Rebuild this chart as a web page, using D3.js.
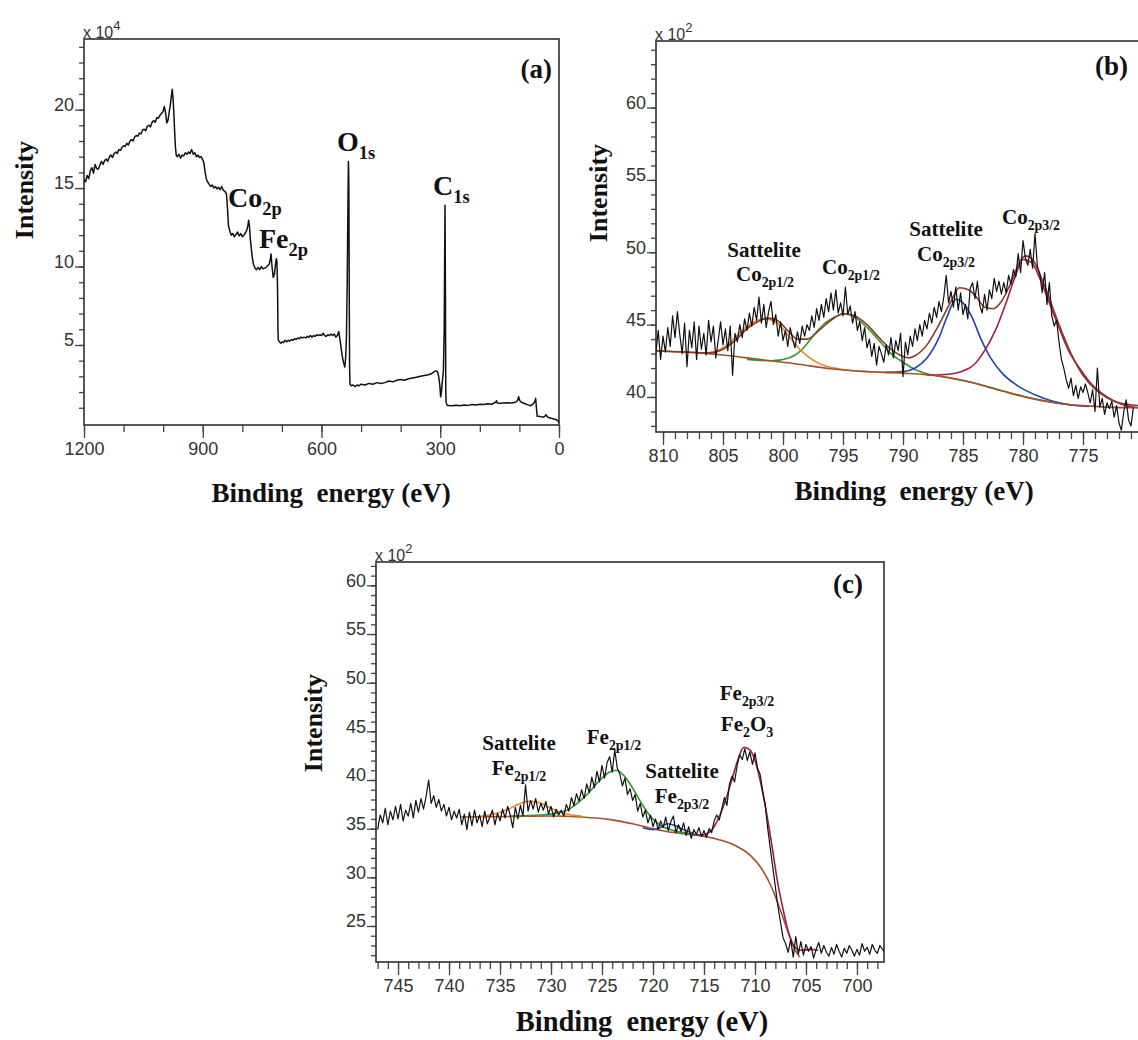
<!DOCTYPE html>
<html>
<head>
<meta charset="utf-8">
<script src="https://cdnjs.cloudflare.com/ajax/libs/d3/7.8.5/d3.min.js"></script>
<style>
body{margin:0;background:#fff;}
svg text{font-family:"Liberation Sans",Arial,sans-serif;}
.lbl{font-family:"Liberation Serif","Times New Roman",serif;font-weight:bold;fill:#111;}
.tick text{font-size:18px;fill:#333;}
.tick line{stroke:#444;stroke-width:1.3;}
</style>
</head>
<body>
<div id="chart"></div>
<script>
// ---- data ----
// (a) survey spectrum: [binding energy eV, intensity x1e4]
var survey = [[1200,15.55],[1196,15.4],[1192,15.8],[1188,15.6],[1184,16.1],[1180,16.3],[1176,15.95],[1172,16.5],[1168,16.25],[1164,16.2],[1160,16.45],[1156,16.7],[1152,16.5],[1148,16.75],[1144,16.85],[1140,16.7],[1136,17.0],[1132,17.1],[1128,16.95],[1124,17.2],[1120,17.3],[1116,17.2],[1112,17.45],[1108,17.4],[1104,17.6],[1100,17.7],[1096,17.65],[1092,17.85],[1088,17.75],[1084,18.0],[1080,18.1],[1076,18.0],[1072,18.25],[1068,18.35],[1064,18.3],[1060,18.5],[1056,18.45],[1052,18.7],[1048,18.75],[1044,18.65],[1040,18.95],[1036,19.0],[1032,18.9],[1028,19.2],[1024,19.3],[1020,19.2],[1016,19.5],[1012,19.45],[1008,19.65],[1004,19.75],[1000,19.9],[997,20.2],[994,19.8],[991,19.15],[988,19.3],[985,19.8],[982,20.3],[979,20.9],[977,21.3],[975,20.7],[973,19.8],[971,18.6],[969,17.6],[967,17.1],[964,17.0],[960,17.15],[956,16.9],[952,17.1],[948,17.05],[944,17.25],[940,17.15],[936,17.3],[932,17.2],[928,17.45],[924,17.15],[920,17.25],[916,17.0],[912,17.1],[908,16.95],[904,17.0],[900,16.8],[897,16.6],[894,16.0],[891,15.6],[888,15.4],[884,15.25],[880,15.1],[876,15.2],[872,15.0],[868,15.1],[864,14.95],[860,15.05],[856,14.9],[852,15.1],[848,14.85],[844,14.8],[840,14.6],[837,13.5],[835,12.6],[832,12.3],[828,12.0],[824,12.1],[820,11.9],[816,12.05],[812,12.2],[808,11.95],[804,12.1],[800,11.9],[796,12.0],[792,12.15],[789,12.3],[786,12.6],[784,12.95],[782,12.6],[780,11.8],[778,11.3],[775,10.6],[772,10.15],[768,9.9],[764,9.8],[760,9.95],[756,9.8],[752,10.0],[748,9.85],[744,9.9],[740,9.95],[736,10.05],[732,10.15],[729,10.5],[727.5,10.8],[725,10.0],[722,9.3],[719,9.5],[716,10.2],[714,10.5],[712.5,10.3],[711,8.5],[710,6.0],[709,5.3],[706,5.2],[703,5.1],[700,5.2],[696,5.15],[692,5.3],[688,5.2],[684,5.3],[680,5.25],[676,5.35],[672,5.3],[668,5.4],[664,5.35],[660,5.45],[656,5.4],[652,5.5],[648,5.45],[644,5.5],[640,5.45],[636,5.55],[632,5.5],[628,5.6],[624,5.5],[620,5.6],[616,5.55],[612,5.65],[608,5.6],[604,5.65],[600,5.6],[596,5.75],[592,5.6],[588,5.55],[584,5.65],[580,5.6],[576,5.7],[572,5.6],[568,5.7],[564,5.5],[560,5.6],[556.5,5.85],[553,5.3],[550,4.7],[547,4.2],[544,3.85],[541,3.6],[539,4.2],[537,5.5],[535,9.0],[533,14.5],[532,16.7],[531,15.5],[530,9.0],[529,3.5],[528,2.5],[525,2.4],[520,2.45],[515,2.35],[510,2.45],[505,2.4],[500,2.5],[490,2.45],[480,2.55],[470,2.5],[460,2.6],[450,2.55],[440,2.6],[430,2.7],[420,2.65],[410,2.75],[400,2.8],[390,2.75],[380,2.85],[370,2.9],[360,2.95],[350,3.0],[340,3.05],[330,3.1],[320,3.2],[315,3.3],[311,3.35],[307,3.3],[304,3.0],[301,2.4],[299,1.7],[297,2.0],[295,2.6],[292,3.4],[290,6.0],[289,10.0],[288,13.9],[287,9.0],[286,2.0],[285,1.3],[282,1.15],[280,1.15],[270,1.12],[260,1.16],[250,1.13],[240,1.18],[230,1.15],[220,1.2],[210,1.17],[200,1.22],[190,1.2],[180,1.25],[170,1.22],[164,1.3],[160,1.35],[158,1.45],[156,1.3],[150,1.28],[140,1.3],[130,1.32],[120,1.3],[110,1.35],[105,1.45],[102,1.7],[99,1.45],[95,1.35],[90,1.3],[85,1.25],[80,1.2],[75,1.15],[70,1.15],[65,1.25],[61,1.4],[59,1.6],[57,1.0],[55,0.45],[50,0.45],[45,0.42],[40,0.4],[36,0.45],[33,0.55],[30,0.45],[27,0.38],[20,0.33],[15,0.3],[10,0.27],[5,0.22],[2,0.15],[0,0.02]];

// (b) Co 2p raw counts (x1e2), first point at 810.6 eV, one every 0.2 eV
var coStart = 810.6, coStep = 0.2;
var coRaw = [43.0,44.6,42.6,44.2,43.1,44.8,43.5,45.6,44.1,45.9,
  44.3,43.0,45.1,42.1,44.6,43.4,45.2,42.6,44.9,43.3,
  44.4,42.9,45.3,43.8,44.9,42.7,43.9,45.2,43.6,44.7,
  43.2,44.9,41.5,44.4,43.8,45.0,44.1,45.4,44.6,45.8,
  44.9,46.2,45.3,46.9,45.1,46.4,44.8,45.9,46.6,45.0,
  45.7,44.2,45.2,43.9,44.6,43.5,44.8,44.0,43.4,44.5,
  43.7,44.9,44.2,45.0,44.6,45.6,44.8,46.1,45.3,46.4,
  45.5,46.8,45.9,47.2,46.0,47.4,45.8,46.5,45.6,47.6,
  45.7,46.3,45.1,45.9,44.6,45.2,43.9,44.8,43.4,44.0,
  42.8,43.7,42.2,43.5,43.0,42.4,43.6,42.9,44.1,42.7,
  43.9,43.2,44.4,41.4,43.8,42.9,44.2,43.5,44.7,43.9,
  45.0,44.2,45.3,44.7,45.8,45.1,46.2,45.5,46.6,45.9,
  46.9,48.4,46.5,47.3,46.2,47.6,46.0,47.2,45.7,46.4,
  45.4,47.5,47.9,46.8,48.0,46.3,45.8,47.1,46.0,47.4,
  46.8,48.2,47.3,48.0,47.1,47.9,47.2,48.4,47.8,48.8,
  48.3,49.9,48.6,50.8,49.6,49.1,50.2,48.9,51.3,49.0,
  48.5,47.2,48.6,46.4,47.9,45.6,44.9,45.3,43.8,42.6,
  42.0,41.2,40.6,41.3,40.1,40.8,39.9,40.7,40.3,40.9,
  40.3,39.6,40.5,39.0,42.0,39.3,39.9,38.8,39.6,39.2,
  39.7,38.6,39.4,38.2,37.7,39.0,39.8,38.4,38.0,39.3];
var coBackground = [[810.6,43.2],[808,43.1],[805,42.9],[802,42.6],[799,42.3],[796,41.95],[793,41.75],[790,41.65],[787,41.45],[785,41.15],[783,40.7],[781,40.25],[779,39.85],[777,39.55],[775,39.4],[773,39.3],[770.3,39.25]];
var coEnvelope = [[810.6,43.2],[806,43.05],[805,43.3],[804,43.9],[803,44.7],[802,45.25],[801.3,45.45],[800.5,45.3],[799.5,44.5],[798.8,44.0],[798,44.0],[797,44.6],[796,45.3],[795,45.75],[794,45.6],[793,45.0],[792,44.1],[791,43.3],[790,42.8],[789.5,42.7],[789,42.85],[788,43.6],[787,45.0],[786,46.6],[785.3,47.55],[784.5,47.4],[783.8,46.8],[783.2,46.2],[782.5,46.1],[781.8,46.6],[781,47.9],[780.3,49.3],[779.8,49.75],[779.2,49.5],[778.5,48.3],[777.8,46.8],[777,45.0],[776,43.0],[775,41.5],[774,40.55],[773,39.95],[772,39.6],[770.3,39.4]];
var coSatHigh = [[806.5,43.05],[805.5,43.2],[804.5,43.7],[803.5,44.5],[802.5,45.15],[801.5,45.4],[800.5,45.1],[799.5,44.2],[798.5,43.2],[797.5,42.55],[796.5,42.15],[795,41.9],[793,41.75]];
var coHalf = [[803,42.6],[801,42.5],[799.5,42.7],[798.5,43.2],[797.5,44.2],[796.5,45.1],[795.5,45.6],[794.8,45.75],[794,45.5],[793,44.8],[792,43.9],[791,43.0],[790,42.4],[789,41.9],[788,41.6],[786,41.3],[784,40.95],[782,40.5],[780,40.05],[778,39.7],[776,39.45]];
var coSatLow = [[791.5,41.7],[790,41.75],[789,42.0],[788,42.7],[787,44.1],[786.3,45.6],[785.6,46.75],[785,46.5],[784.3,45.6],[783.5,44.0],[782.7,42.7],[781.8,41.7],[780.5,40.8],[779,40.15],[777.5,39.7],[776,39.45],[774.5,39.35]];
var coMain = [[788,41.5],[786.5,41.55],[785,41.8],[784,42.3],[783.2,43.2],[782.3,44.6],[781.5,46.3],[780.7,48.2],[780,49.5],[779.3,49.3],[778.6,48.2],[777.8,46.5],[777,44.8],[776.2,43.2],[775.3,42.0],[774.2,40.8],[773,40.0],[771.8,39.5],[770.3,39.25]];

// (c) Fe 2p raw counts (x1e2), first point at 747.0 eV, one every 0.25 eV
var feStart = 747.0, feStep = 0.25;
var feRaw = [34.9,36.4,35.6,37.1,35.4,36.8,35.9,37.3,
  36.0,37.5,35.8,36.9,36.3,37.6,36.1,37.9,
  36.7,38.1,37.0,38.3,40.0,37.6,38.4,37.2,
  38.0,36.8,37.5,36.3,37.2,35.9,36.8,36.1,
  37.0,35.4,36.5,34.9,36.7,35.3,36.9,35.6,
  36.4,35.2,36.8,35.5,36.2,36.9,35.4,36.6,
  35.8,37.0,36.1,37.3,36.4,35.1,37.2,36.0,
  37.4,36.3,39.5,36.8,37.9,37.0,38.1,36.7,
  37.6,36.9,37.8,36.5,37.3,36.2,37.0,36.4,
  36.9,36.3,37.5,36.8,38.2,37.4,38.6,37.8,
  39.0,38.1,39.6,38.7,40.3,39.2,40.9,39.8,
  41.5,40.2,41.8,42.4,40.8,43.1,41.2,40.6,
  39.4,40.2,38.5,39.1,37.9,38.5,36.8,37.6,
  36.2,36.9,35.6,36.4,35.2,36.0,34.9,35.8,
  35.1,36.2,34.8,35.7,36.3,34.6,35.4,34.7,
  35.6,34.3,35.2,34.0,34.9,34.4,35.1,34.2,
  34.8,34.1,35.0,34.6,35.8,36.4,35.9,37.0,
  38.2,37.4,39.6,40.4,39.8,41.5,42.6,42.1,
  43.2,42.0,42.9,41.6,42.8,41.2,40.6,38.9,
  37.5,35.0,33.0,31.0,29.0,27.0,25.4,23.8,
  23.2,22.3,23.6,21.8,23.9,22.1,23.4,22.0,
  23.1,22.4,22.9,21.7,22.6,23.3,22.2,23.0,
  22.3,21.9,22.8,22.1,23.1,22.4,21.8,22.7,
  22.2,23.0,22.5,21.9,22.6,22.0,23.2,22.4,
  22.8,22.1,23.1,22.5,22.2,23.0,22.6,22.3];
var feBackground = [[738.8,36.2],[734,36.25],[730,36.3],[727,36.2],[724,35.9],[722,35.5],[720,35.0],[718,34.6],[716,34.35],[714,34.0],[712,33.3],[710.5,32.3],[709.3,30.8],[708.3,28.8],[707.4,26.3],[706.7,24.2],[706.1,22.6],[705.6,21.8]];
var feSatHigh = [[737,36.25],[735.8,36.45],[734.3,36.95],[733.2,37.5],[732.3,37.8],[731.2,37.7],[730.2,37.2],[729.2,36.75],[728.2,36.45],[727,36.3]];
var feHalf = [[734,36.3],[731,36.4],[729.5,36.6],[728.3,36.95],[727.2,37.8],[726.2,38.8],[725.2,40.0],[724.3,40.8],[723.6,41.0],[722.8,40.4],[721.9,39.0],[721,37.4],[720.2,36.2],[719.2,35.3],[718,34.8],[716.5,34.5],[715,34.3]];
var feSatLow = [[721,35.1],[720,34.9],[719.3,35.1],[718.6,35.5],[717.8,35.3],[717,34.9],[716,34.5]];
var feMain = [[716,34.4],[715.2,34.35],[714.3,34.8],[713.6,36.0],[713,37.6],[712.3,39.9],[711.7,42.0],[711.1,43.35],[710.5,43.1],[710,42.0],[709.4,39.5],[708.8,36.2],[708.3,33.0],[707.8,29.6],[707.2,26.5],[706.7,24.3],[706.2,23.0],[705.5,22.5],[704.5,22.6],[703.8,22.5]];

var colBg = '#a0522d', colEnv = '#8b3a22', colOrange = '#f5832b', colGreen = '#2f9a2f', colBlue = '#2443a8', colPurple = '#a31a55';

// ---- canvas ----
var svg = d3.select('#chart').append('svg')
    .attr('width',1138)
    .attr('height',1040);

function toPairs(start, step, vals){
    return vals.map(function(v,i){ return [start - i*step, v]; });
}

function panel(o){
    var g = svg.append('g');
    var sx = d3.scaleLinear().domain(o.xd).range(o.xr);
    var sy = d3.scaleLinear().domain(o.yd).range(o.yr);
    var x0 = o.xr[0], x1 = o.xr[1], yb = o.yr[0], yt = o.yr[1];

    g.append('clipPath').attr('id',o.id)
        .append('rect').attr('x',x0).attr('y',yt).attr('width',x1-x0).attr('height',yb-yt);

    // ticks
    g.append('g').attr('class','axis')
        .attr('transform','translate(0,'+yb+')')
        .call(d3.axisBottom(sx).tickValues(o.xMinor).tickSize(7).tickFormat(''));
    g.append('g').attr('class','axis')
        .attr('transform','translate(0,'+yb+')')
        .call(d3.axisBottom(sx).tickValues(o.xMajor).tickSize(13).tickPadding(4).tickFormat(d3.format('d')));
    g.append('g').attr('class','axis')
        .attr('transform','translate('+x0+',0)')
        .call(d3.axisLeft(sy).tickValues(o.yMinor).tickSize(5).tickFormat(''));
    var ya = g.append('g').attr('class','axis')
        .attr('transform','translate('+x0+',0)')
        .call(d3.axisLeft(sy).tickValues(o.yMajor).tickSize(9).tickPadding(1).tickFormat(d3.format('d')));
    ya.selectAll('text').attr('dy','0.05em');
    g.selectAll('.domain').remove();

    g.append('rect')
        .attr('x',x0).attr('y',yt).attr('width',x1-x0).attr('height',yb-yt)
        .attr('fill','none').attr('stroke','#3a3a3a').attr('stroke-width',1.7);

    // x 10^n
    var ex = g.append('text').attr('x',x0-1).attr('y',yt-1).style('font-size','16px').style('fill','#333');
    ex.append('tspan').text('x 10');
    ex.append('tspan').attr('dy',-8).style('font-size','13px').text(o.exp);

    var plot = g.append('g').attr('clip-path','url(#'+o.id+')');
    var smooth = d3.line().x(function(d){return sx(d[0]);}).y(function(d){return sy(d[1]);}).curve(d3.curveMonotoneX);
    var raw = d3.line().x(function(d){return sx(d[0]);}).y(function(d){return sy(d[1]);});

    (o.fits || []).forEach(function(f){
        plot.append('path').datum(f.data)
            .attr('d',smooth).attr('fill','none')
            .attr('stroke',f.color).attr('stroke-width',1.6);
    });
    plot.append('path').datum(o.data)
        .attr('d',raw).attr('fill','none')
        .attr('stroke','#111').attr('stroke-width',o.rawWidth || 1.2)
        .attr('stroke-linejoin','round');

    g.append('text').attr('class','lbl')
        .attr('text-anchor','end')
        .attr('x',o.tagX).attr('y',o.tagY)
        .style('font-size','27px').text(o.tag);

    g.append('text').attr('class','lbl')
        .attr('text-anchor','middle')
        .attr('transform','translate('+o.ylx+','+o.yly+') rotate(-90)')
        .style('font-size','26px').text('Intensity');

    g.append('text').attr('class','lbl')
        .attr('text-anchor','middle')
        .attr('x',o.xlx).attr('y',o.xly)
        .style('font-size',o.xlSize+'px').style('white-space','pre')
        .text('Binding  energy (eV)');

    return g;
}

// label with subscripts: parts = [[text, isSub], ...]
function note(g, x, y, size, parts, anchor){
    var t = g.append('text').attr('class','lbl')
        .attr('x',x).attr('y',y)
        .attr('text-anchor',anchor || 'middle')
        .style('font-size',size+'px');
    var sub = false;
    parts.forEach(function(p){
        var s = t.append('tspan').text(p[0]);
        if (p[1] && !sub) { s.attr('dy',size*0.28).style('font-size',(size*0.66)+'px'); sub = true; }
        else if (p[1]) { s.style('font-size',(size*0.66)+'px'); }
        else if (sub) { s.attr('dy',-size*0.28); sub = false; }
    });
}

// (a)
var ga = panel({
    id:'clipA', data:survey, exp:'4', rawWidth:1.5,
    xd:[1200,0], xr:[84,559], yd:[-0.1,24.5], yr:[425,39],
    xMajor:[1200,900,600,300,0], xMinor:d3.range(0,1201,100),
    yMajor:[5,10,15,20], yMinor:d3.range(1,25),
    tag:'(a)', tagX:552, tagY:78,
    ylx:33, yly:190, xlx:331, xly:502, xlSize:27
});
note(ga, 337, 151, 28, [['O',0],['1s',1]], 'start');
note(ga, 433, 195, 28, [['C',0],['1s',1]], 'start');
note(ga, 228, 207, 28, [['Co',0],['2p',1]], 'start');
note(ga, 259, 248, 28, [['Fe',0],['2p',1]], 'start');

// (b)
var gb = panel({
    id:'clipB', data:toPairs(coStart, coStep, coRaw),
    exp:'2',
    xd:[810.583,770.25], xr:[656,1140], yd:[37.58,64.6], yr:[432,41],
    xMajor:[810,805,800,795,790,785,780,775], xMinor:d3.range(771,811,1),
    yMajor:[40,45,50,55,60], yMinor:d3.range(38,65),
    fits:[{data:coHalf,color:colGreen},{data:coSatLow,color:colBlue},{data:coMain,color:colPurple},
          {data:coSatHigh,color:colOrange},{data:coBackground,color:colBg},{data:coEnvelope,color:colEnv}],
    tag:'(b)', tagX:1128, tagY:75,
    ylx:607, yly:193, xlx:914, xly:500, xlSize:27
});
note(gb, 764, 257, 21, [['Sattelite',0]]);
note(gb, 765, 281, 21, [['Co',0],['2p1/2',1]]);
note(gb, 851, 274, 21, [['Co',0],['2p1/2',1]]);
note(gb, 946, 236, 21, [['Sattelite',0]]);
note(gb, 946, 261, 21, [['Co',0],['2p3/2',1]]);
note(gb, 1031, 224, 21, [['Co',0],['2p3/2',1]]);

// (c)
var gc = panel({
    id:'clipC', data:toPairs(feStart, feStep, feRaw),
    exp:'2',
    xd:[747.16,697.35], xr:[376,884], yd:[21.3,62.4], yr:[962,562],
    xMajor:[745,740,735,730,725,720,715,710,705,700], xMinor:d3.range(698,748,1),
    yMajor:[25,30,35,40,45,50,55,60], yMinor:d3.range(22,63),
    fits:[{data:feBackground,color:colBg},{data:feSatHigh,color:colOrange},{data:feHalf,color:colGreen},
          {data:feSatLow,color:colBlue},{data:feMain,color:colPurple}],
    tag:'(c)', tagX:863, tagY:593,
    ylx:322, yly:723, xlx:642, xly:1031, xlSize:28.5
});
note(gc, 519, 750, 21, [['Sattelite',0]]);
note(gc, 519, 775, 21, [['Fe',0],['2p1/2',1]]);
note(gc, 614, 744, 21, [['Fe',0],['2p1/2',1]]);
note(gc, 682, 778, 21, [['Sattelite',0]]);
note(gc, 682, 803, 21, [['Fe',0],['2p3/2',1]]);
note(gc, 747, 700, 21, [['Fe',0],['2p3/2',1]]);
note(gc, 747, 731, 21, [['Fe',0],['2',1],['O',0],['3',1]]);
</script>
</body>
</html>
